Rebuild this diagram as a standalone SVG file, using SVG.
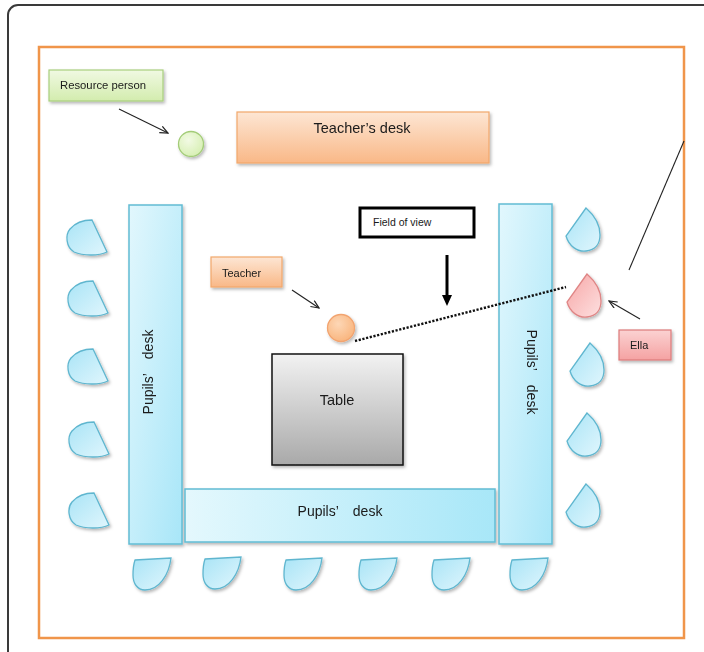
<svg xmlns="http://www.w3.org/2000/svg" width="704" height="652" viewBox="0 0 704 652">
<defs>
<style>
text{font-family:"Liberation Sans",Arial,sans-serif;fill:#1a1a1a}
.desk{fill:url(#gBlue);stroke:#62bcd4;stroke-width:1.5}
.chair{fill:url(#gChair);stroke:#5fb6cf;stroke-width:1.3}
.thin{stroke:#222;stroke-width:1.1;fill:none}
.sh{filter:url(#shadow)}
</style>
<filter id="shadow" x="-20%" y="-20%" width="140%" height="150%">
<feDropShadow dx="1.5" dy="2" stdDeviation="1.5" flood-color="#000" flood-opacity="0.28"/>
</filter>
<linearGradient id="gBlue" x1="0" y1="0" x2="1" y2="1">
<stop offset="0" stop-color="#e2f7fd"/><stop offset="1" stop-color="#a8e6f8"/>
</linearGradient>
<linearGradient id="gBlueH" x1="0" y1="0" x2="1" y2="0">
<stop offset="0" stop-color="#e4f8fd"/><stop offset="1" stop-color="#a8e7f8"/>
</linearGradient>
<linearGradient id="gChair" x1="0" y1="0" x2="1" y2="1">
<stop offset="0" stop-color="#a9e4f6"/><stop offset="1" stop-color="#e0f6fd"/>
</linearGradient>
<linearGradient id="gRed" x1="0" y1="0" x2="1" y2="1">
<stop offset="0" stop-color="#f7a6a6"/><stop offset="1" stop-color="#fde0e0"/>
</linearGradient>
<linearGradient id="gEllaBox" x1="0" y1="0" x2="0" y2="1">
<stop offset="0" stop-color="#fbd2d2"/><stop offset="1" stop-color="#f5a2a2"/>
</linearGradient>
<linearGradient id="gOrange" x1="0" y1="0" x2="0" y2="1">
<stop offset="0" stop-color="#fde6d4"/><stop offset="1" stop-color="#f9b887"/>
</linearGradient>
<linearGradient id="gGreen" x1="0" y1="0" x2="0" y2="1">
<stop offset="0" stop-color="#f0f9e2"/><stop offset="1" stop-color="#d3ecae"/>
</linearGradient>
<linearGradient id="gGray" x1="0" y1="0" x2="0" y2="1">
<stop offset="0" stop-color="#f2f2f2"/><stop offset="1" stop-color="#a9a9a9"/>
</linearGradient>
<radialGradient id="gOrangeC" cx="0.4" cy="0.35" r="0.7">
<stop offset="0" stop-color="#fdd7b6"/><stop offset="1" stop-color="#f9b47c"/>
</radialGradient>
<radialGradient id="gGreenC" cx="0.4" cy="0.35" r="0.7">
<stop offset="0" stop-color="#f2fae4"/><stop offset="1" stop-color="#d6efb2"/>
</radialGradient>
<path id="chairL" d="M26,0 L41,32 C33,36 17,36 8,32 C0,27 -1,15 4,9 C10,2 18,0 26,0 Z"/>
<path id="chairR" d="M20,0 L0,28 C3,38 11,44 20,43 C29,42 34,36 34,27 C34,16 28,7 20,0 Z"/>
<path id="chairB" d="M2,3 L38,1 C36,18 26,33 12,33 C4,33 0,26 0,18 C0,11 1,6 2,3 Z"/>
<marker id="open" markerWidth="10" markerHeight="10" refX="9" refY="4" orient="auto" markerUnits="userSpaceOnUse">
<path d="M1,0.5 L9,4 L1,7.5" fill="none" stroke="#222" stroke-width="1.2"/>
</marker>
<marker id="solid" markerWidth="12" markerHeight="10" refX="2" refY="5" orient="auto" markerUnits="userSpaceOnUse">
<path d="M0,0 L11,5 L0,10 Z" fill="#000"/>
</marker>
</defs>

<rect x="8" y="5" width="720" height="680" rx="10" fill="#fff" stroke="#3a3a3a" stroke-width="2"/>
<rect id="room" x="39" y="47" width="645" height="591" fill="#fff" stroke="#f0954a" stroke-width="2.5"/>

<g id="teachers-desk" class="sh">
<rect x="237" y="112" width="252" height="51" fill="url(#gOrange)" stroke="#f2a76b" stroke-width="1.2"/>
<text x="362" y="133" font-size="14.5" text-anchor="middle">Teacher’s desk</text>
</g>

<g id="resource-label" class="sh">
<rect x="49" y="70" width="114" height="31" fill="url(#gGreen)" stroke="#a9cf7e" stroke-width="1.2"/>
<text x="60" y="89" font-size="11.3">Resource person</text>
</g>
<g id="resource-person" class="sh">
<circle cx="191" cy="144" r="12.5" fill="url(#gGreenC)" stroke="#a3cc78" stroke-width="1.3"/>
</g>

<g id="teacher-label" class="sh">
<rect x="211" y="257" width="71" height="30" fill="url(#gOrange)" stroke="#f2a76b" stroke-width="1.2"/>
<text x="222" y="277" font-size="11">Teacher</text>
</g>
<g id="teacher" class="sh">
<circle cx="341" cy="328" r="13.5" fill="url(#gOrangeC)" stroke="#f2a470" stroke-width="1.3"/>
</g>

<g id="table" class="sh">
<rect x="272" y="354" width="131" height="111" fill="url(#gGray)" stroke="#111" stroke-width="1.5"/>
<text x="337" y="405" font-size="14.5" text-anchor="middle">Table</text>
</g>

<g id="desk-left" class="sh">
<rect class="desk" x="129" y="205" width="53" height="339"/>
<text transform="translate(153,372) rotate(-90)" font-size="14" text-anchor="middle">Pupils’<tspan dx="14">desk</tspan></text>
</g>
<g id="desk-bottom" class="sh">
<rect x="185" y="489" width="310" height="53" fill="url(#gBlueH)" stroke="#62bcd4" stroke-width="1.5"/>
<text x="340" y="516" font-size="14" text-anchor="middle">Pupils’<tspan dx="14">desk</tspan></text>
</g>
<g id="desk-right" class="sh">
<rect class="desk" x="499" y="204" width="53" height="340"/>
<text transform="translate(527,372) rotate(90)" font-size="14" text-anchor="middle">Pupils’<tspan dx="14">desk</tspan></text>
</g>

<g id="field-of-view-label">
<rect x="360" y="208" width="114" height="29" fill="#fff" stroke="#000" stroke-width="3"/>
<text x="373" y="226" font-size="10.5">Field of view</text>
</g>

<g id="ella-label" class="sh">
<rect x="619" y="330" width="52" height="30" fill="url(#gEllaBox)" stroke="#dc7b7b" stroke-width="1.2"/>
<text x="630" y="349" font-size="11">Ella</text>
</g>

<g id="chairs-left" class="sh">
<use href="#chairL" x="66" y="220" class="chair"/>
<use href="#chairL" x="67" y="281" class="chair"/>
<use href="#chairL" x="67" y="349" class="chair"/>
<use href="#chairL" x="68" y="422" class="chair"/>
<use href="#chairL" x="68" y="493" class="chair"/>
</g>
<g id="chairs-right" class="sh">
<use href="#chairR" x="566" y="208" class="chair"/>
<use href="#chairR" x="570" y="343" class="chair"/>
<use href="#chairR" x="567" y="413" class="chair"/>
<use href="#chairR" x="566" y="484" class="chair"/>
</g>
<g id="ella" class="sh">
<use href="#chairR" x="567" y="274" fill="url(#gRed)" stroke="#df8585" stroke-width="1.3"/>
</g>
<g id="chairs-bottom" class="sh">
<use href="#chairB" x="133" y="557" class="chair"/>
<use href="#chairB" x="203" y="556" class="chair"/>
<use href="#chairB" x="284" y="557" class="chair"/>
<use href="#chairB" x="359" y="557" class="chair"/>
<use href="#chairB" x="432" y="557" class="chair"/>
<use href="#chairB" x="510" y="557" class="chair"/>
</g>

<g id="connectors">
<line class="thin" x1="119" y1="109" x2="168" y2="133" marker-end="url(#open)"/>
<line class="thin" x1="292" y1="290" x2="319" y2="308" marker-end="url(#open)"/>
<line class="thin" x1="640" y1="319" x2="609" y2="301" marker-end="url(#open)"/>
<line class="thin" x1="629" y1="270" x2="684" y2="141"/>
<line x1="447" y1="255" x2="447" y2="297" stroke="#000" stroke-width="3" marker-end="url(#solid)"/>
<line x1="355" y1="341" x2="566" y2="287" stroke="#111" stroke-width="2.4" stroke-dasharray="2.2,1.6"/>
</g>
</svg>
